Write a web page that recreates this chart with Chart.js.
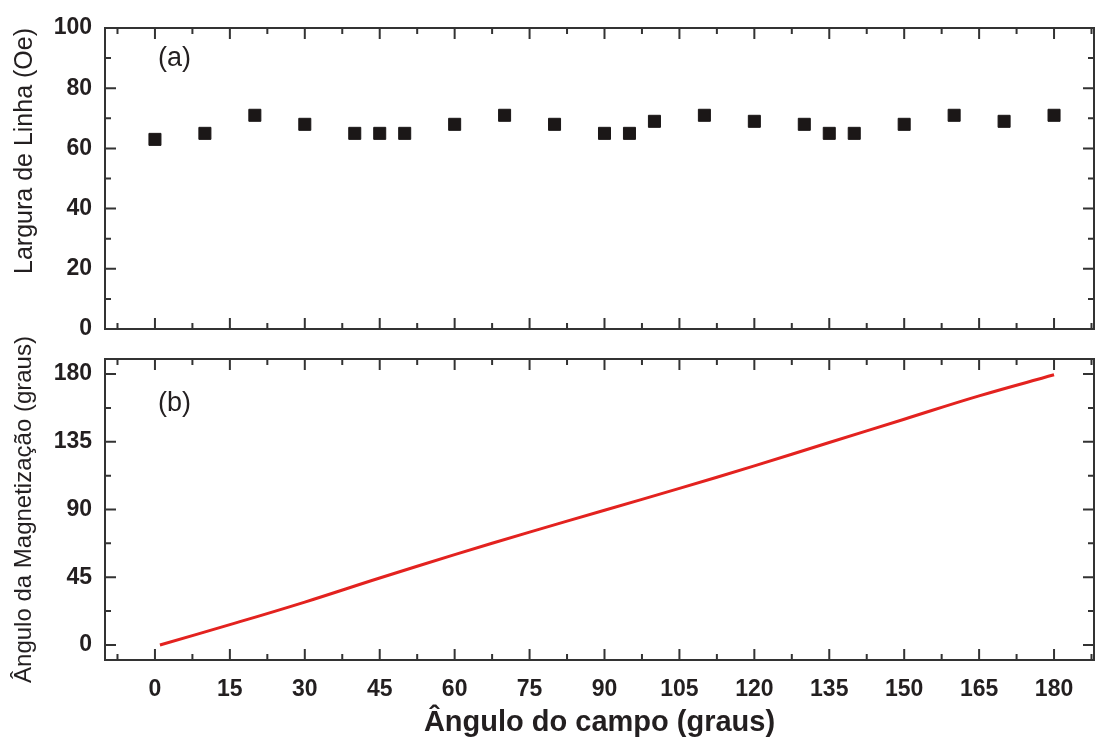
<!DOCTYPE html>
<html lang="pt">
<head>
  <meta charset="UTF-8" />
  <title>Largura de Linha e Ângulo da Magnetização</title>
  <script src="https://cdn.jsdelivr.net/npm/chart.js"></script>
  <style>
    body { margin: 0; background: #fff; }
    .panel { position: absolute; left: 0; width: 1104px; }
    #topPanel { top: 0; height: 345px; }
    #bottomPanel { top: 325px; height: 415px; }
  </style>
</head>
<body>

<div class="panel" id="topPanel"><canvas id="chartA"></canvas></div>
<div class="panel" id="bottomPanel"><canvas id="chartB"></canvas></div>

<script>
  // (a) line width vs field angle
  const fieldAngles = [0, 10, 20, 30, 40, 45, 50, 60, 70, 80, 90, 95, 100, 110, 120, 130, 135, 140, 150, 160, 170, 180];
  const lineWidths  = [63, 65, 71, 68, 65, 65, 65, 68, 71, 68, 65, 65, 69, 71, 69, 68, 65, 65, 68, 71, 69, 71];

  // (b) magnetization angle vs field angle
  const curveField = [1, 15, 30, 45, 60, 75, 90, 105, 120, 135, 150, 165, 180];
  const magAngles  = [0, 13.5, 28.5, 44.5, 60, 75, 89.5, 104, 119, 134.5, 150, 165.5, 179.5];

  const xTicks = [0, 15, 30, 45, 60, 75, 90, 105, 120, 135, 150, 165, 180];

  const ink = '#231f20';
  Chart.defaults.font.family = "'Liberation Sans', Arial, sans-serif";
  Chart.defaults.color = ink;

  // frame + inward ticks (major and minor) on all four sides, like the original plot
  const framePlugin = {
    id: 'frame',
    afterDraw(chart, args, opts) {
      const ctx = chart.ctx;
      const a = chart.chartArea;
      const xs = chart.scales.x, ys = chart.scales.y;
      ctx.save();
      ctx.strokeStyle = '#333';
      ctx.lineWidth = 2;
      ctx.strokeRect(a.left, a.top, a.right - a.left, a.bottom - a.top);

      const major = 11, minor = 6;
      const xv = xTicks;
      const xm = [];
      for (let i = 0; i < xv.length - 1; i++) xm.push((xv[i] + xv[i + 1]) / 2);
      xm.unshift(xv[0] - 7.5);
      xm.push(xv[xv.length - 1] + 7.5);
      ctx.beginPath();
      xv.forEach(v => {
        const p = xs.getPixelForValue(v);
        ctx.moveTo(p, a.top); ctx.lineTo(p, a.top + major);
        ctx.moveTo(p, a.bottom); ctx.lineTo(p, a.bottom - major);
      });
      xm.forEach(v => {
        const p = xs.getPixelForValue(v);
        if (p <= a.left || p >= a.right) return;
        ctx.moveTo(p, a.top); ctx.lineTo(p, a.top + minor);
        ctx.moveTo(p, a.bottom); ctx.lineTo(p, a.bottom - minor);
      });
      const yv = ys.ticks.map(t => t.value);
      const step = yv[1] - yv[0];
      const ym = [];
      for (let i = 0; i < yv.length - 1; i++) ym.push((yv[i] + yv[i + 1]) / 2);
      ym.unshift(yv[0] - step / 2);
      ym.push(yv[yv.length - 1] + step / 2);
      yv.forEach(v => {
        const p = ys.getPixelForValue(v);
        ctx.moveTo(a.left, p); ctx.lineTo(a.left + major, p);
        ctx.moveTo(a.right, p); ctx.lineTo(a.right - major, p);
      });
      ym.forEach(v => {
        const p = ys.getPixelForValue(v);
        if (p <= a.top || p >= a.bottom) return;
        ctx.moveTo(a.left, p); ctx.lineTo(a.left + minor, p);
        ctx.moveTo(a.right, p); ctx.lineTo(a.right - minor, p);
      });
      ctx.stroke();

      // panel letter
      ctx.fillStyle = ink;
      ctx.font = "27px 'Liberation Sans', Arial, sans-serif";
      ctx.textAlign = 'left';
      ctx.textBaseline = 'middle';
      ctx.fillText(opts.letter, xs.getPixelForValue(0.6), ys.getPixelForValue(opts.letterY));
      ctx.restore();
    }
  };

  // fixed axis sizes, and no extra room reserved for half-labels at the ends
  const fixWidth = w => function (scale) {
    scale.width = w;
    scale.paddingTop = 0; scale.paddingBottom = 0;
  };
  const fixHeight = h => function (scale) {
    scale.height = h;
    scale.paddingLeft = 0; scale.paddingRight = 0;
  };

  new Chart(document.getElementById('chartA'), {
    type: 'scatter',
    data: {
      datasets: [{
        data: fieldAngles.map((x, i) => ({ x: x, y: lineWidths[i] })),
        pointStyle: 'rect',
        pointRadius: 8.5,
        borderWidth: 1,
        backgroundColor: '#1b1717',
        borderColor: '#1b1717'
      }]
    },
    plugins: [framePlugin],
    options: {
      responsive: true,
      maintainAspectRatio: false,
      animation: false,
      layout: { padding: { left: 0, right: 10, top: 28, bottom: 16 } },
      plugins: {
        legend: { display: false },
        tooltip: { enabled: false },
        frame: { letter: '(a)', letterY: 90 }
      },
      scales: {
        x: {
          type: 'linear', min: -10, max: 188, display: false
        },
        y: {
          min: 0, max: 100,
          afterFit: fixWidth(105),
          grid: { display: false, drawTicks: false },
          border: { display: false },
          ticks: { stepSize: 20, padding: 13, font: { size: 23, weight: 'bold' }, color: ink },
          title: {
            display: true, text: 'Largura de Linha (Oe)', align: 'end',
            font: { size: 25 }, color: ink, padding: { top: 10, bottom: 0 }
          }
        }
      }
    }
  });

  new Chart(document.getElementById('chartB'), {
    type: 'line',
    data: {
      datasets: [{
        data: curveField.map((x, i) => ({ x: x, y: magAngles[i] })),
        borderColor: '#e3221f',
        borderWidth: 3,
        pointRadius: 0,
        tension: 0.4,
        fill: false
      }]
    },
    plugins: [framePlugin],
    options: {
      responsive: true,
      maintainAspectRatio: false,
      animation: false,
      layout: { padding: { left: 0, right: 10, top: 34, bottom: 0 } },
      plugins: {
        legend: { display: false },
        tooltip: { enabled: false },
        frame: { letter: '(b)', letterY: 160.6 }
      },
      scales: {
        x: {
          type: 'linear', min: -10, max: 188,
          afterFit: fixHeight(80),
          grid: { display: false, drawTicks: false },
          border: { display: false },
          ticks: { stepSize: 15, includeBounds: false, padding: 16, maxRotation: 0, autoSkip: false,
                   font: { size: 23, weight: 'bold' }, color: ink },
          title: {
            display: true, text: 'Ângulo do campo (graus)',
            font: { size: 29, weight: 'bold' }, color: ink, padding: { top: 0, bottom: 0 }
          }
        },
        y: {
          min: -10, max: 190,
          afterFit: fixWidth(105),
          grid: { display: false, drawTicks: false },
          border: { display: false },
          ticks: { stepSize: 45, includeBounds: false, padding: 13, font: { size: 23, weight: 'bold' }, color: ink },
          title: {
            display: true, text: 'Ângulo da Magnetização (graus)',
            font: { size: 24 }, color: ink, padding: { top: 10, bottom: 0 }
          }
        }
      }
    }
  });
</script>

</body>
</html>
